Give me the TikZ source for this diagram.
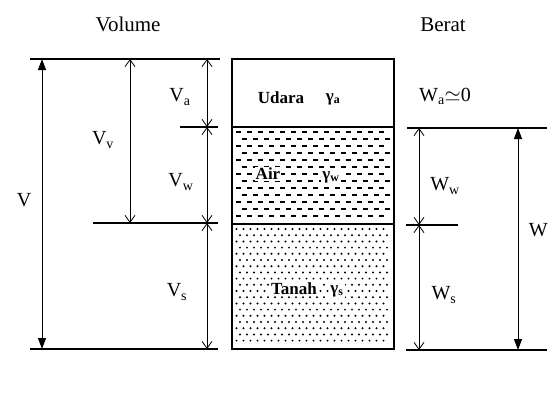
\documentclass[tikz,border=0pt]{standalone}
\usepackage{fontspec}
\setmainfont{Liberation Serif}
\usetikzlibrary{arrows.meta}

\begin{document}
\begin{tikzpicture}[
    x=1pt, y=-1pt,
    head/.style={font=\fontsize{21}{25}\selectfont, inner sep=0pt},
    lbl/.style={font=\fontsize{20}{24}\selectfont, inner sep=0pt},
    phase/.style={font=\bfseries\fontsize{17}{20}\selectfont, inner sep=1pt, fill=white},
    level/.style={line width=1.2pt},
    dim/.style={{Straight Barb[length=7pt,width=10pt]}-{Straight Barb[length=7pt,width=10pt]}, line width=0.8pt},
    total/.style={{Triangle[length=11pt,width=8pt]}-{Triangle[length=11pt,width=8pt]}, line width=1pt}
]
    \useasboundingbox[fill=white] (0,0) rectangle (549,392);

    % headings
    \node[head] (volume) at (128,24) {Volume};
    \node[head] (berat) at (443,25) {Berat};

    % hatching of water and soil
    \foreach \r in {0,...,12} {
        \foreach \c in {0,...,13} {
            \draw[line width=1.6pt] ({236+mod(\r,2)*5.5+11*\c},{132+7*\r}) -- ++(5,0);
        }
    }
    \foreach \r in {0,...,18} {
        \foreach \c in {0,...,21} {
            \fill ({236.5+7*\c+mod(\r,2)*3.5},{229+6.2*\r}) circle (1.1pt);
        }
    }

    % sample column
    \draw[level] (232,59) rectangle (394,349);
    \draw[level] (232,127) -- (394,127);
    \draw[level] (232,224) -- (394,224);

    % levels, volume side
    \draw[level] (30,59) -- (220,59);
    \draw[level] (180,127) -- (218,127);
    \draw[level] (93,223) -- (218,223);
    \draw[level] (30,349) -- (218,349);

    % levels, weight side
    \draw[level] (407,128) -- (547,128);
    \draw[level] (406,225) -- (458,225);
    \draw[level] (406,350) -- (547,350);

    % ends of dimension lines
    \coordinate (vtop) at (42,59);
    \coordinate (vbot) at (42,349);
    \coordinate (vvtop) at (130,59);
    \coordinate (vvbot) at (130,223);
    \coordinate (atop) at (207,59);
    \coordinate (aw) at (207,127);
    \coordinate (ws) at (207,223);
    \coordinate (sbot) at (207,349);
    \coordinate (wwtop) at (419,128);
    \coordinate (wws) at (419,225);
    \coordinate (wsbot) at (419,350);
    \coordinate (wtop) at (518,128);
    \coordinate (wbot) at (518,350);

    \draw[total] (vtop) -- (vbot);
    \draw[dim] (vvtop) -- (vvbot);
    \draw[dim] (atop) -- (aw);
    \draw[dim] (aw) -- (ws);
    \draw[dim] (ws) -- (sbot);
    \draw[dim] (wwtop) -- (wws);
    \draw[dim] (wws) -- (wsbot);
    \draw[total] (wtop) -- (wbot);

    % labels
    \node[lbl] (v) at (24,200) {V};
    \node[lbl] (vv) at (103,140) {V\textsubscript{v}};
    \node[lbl] (va) at (180,97) {V\textsubscript{a}};
    \node[lbl] (vw) at (181,182) {V\textsubscript{w}};
    \node[lbl] (vs) at (177,292) {V\textsubscript{s}};
    \node[lbl] (wa) at (445,96) {W\textsubscript{a}$\simeq$0};
    \node[lbl] (ww) at (445,186) {W\textsubscript{w}};
    \node[lbl] (wsl) at (444,295) {W\textsubscript{s}};
    \node[lbl, anchor=east] (w) at (548,230) {W};

    \node[phase, fill=none] (udara) at (281,98) {Udara};
    \node[phase, fill=none] (ga) at (333,99) {γ\textsubscript{a}};
    \node[phase] (air) at (268,174) {Air};
    \node[phase] (gw) at (331,177) {γ\textsubscript{w}};
    \node[phase] (tanah) at (294,289) {Tanah};
    \node[phase] (gs) at (337,291) {γ\textsubscript{s}};
\end{tikzpicture}
\end{document}
